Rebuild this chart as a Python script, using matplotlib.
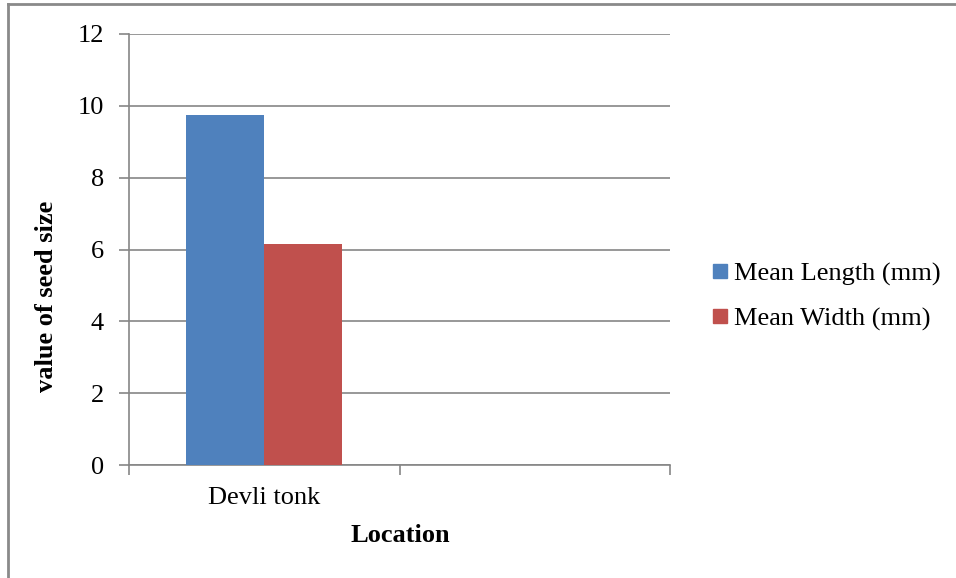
import matplotlib.pyplot as plt
from matplotlib.lines import Line2D
import numpy as np

# DATA
locations = ["Devli tonk", ""]
series_names = ["Mean Length (mm)", "Mean Width (mm)"]
mean_length = [9.75, np.nan]
mean_width = [6.15, np.nan]
y_ticks = [0, 2, 4, 6, 8, 10, 12]

# STYLE
blue = "#4F81BD"
red = "#C0504D"
grid_col = "#868686"
fs = 19
plt.rcParams["font.family"] = ["Liberation Serif", "DejaVu Serif"]

W, H = 956, 578
fig = plt.figure(figsize=(W / 100, H / 100), dpi=100)
ax = fig.add_axes([129 / W, 1 - 465 / H, (670 - 129) / W, (465 - 34) / H])

x = np.arange(len(locations))
bar_w = 78 / 271
ax.bar(x - bar_w / 2, mean_length, bar_w, color=blue, zorder=3)
ax.bar(x + bar_w / 2, mean_width, bar_w, color=red, zorder=3)

ax.set_xlim(-0.5, len(locations) - 0.5)
ax.set_ylim(0, 12)
ax.set_yticks(y_ticks)
ax.yaxis.grid(True, color=grid_col, linewidth=1.2)
ax.set_axisbelow(True)

# category boundary ticks, labels centred between them
ax.set_xticks(np.arange(len(locations) + 1) - 0.5)
ax.set_xticklabels([])
ax.set_xticks(x, minor=True)
ax.set_xticklabels(locations, minor=True)
ax.tick_params(axis="x", which="minor", length=0, pad=16, labelsize=fs)
ax.tick_params(axis="x", which="major", length=7, width=1.2, color=grid_col)
ax.tick_params(axis="y", length=7, width=1.2, color=grid_col, pad=11, labelsize=fs)

for side in ["top", "right"]:
    ax.spines[side].set_visible(False)
for side in ["left", "bottom"]:
    ax.spines[side].set_color(grid_col)
    ax.spines[side].set_linewidth(1.2)

fig.text(47 / W, 1 - 296 / H, "value of seed size", rotation=90, ha="center", va="center",
         fontsize=fs, fontweight="bold")
fig.text(400 / W, 1 - 536 / H, "Location", ha="center", va="center",
         fontsize=fs, fontweight="bold")

handles = [Line2D([], [], marker="s", linestyle="none", markersize=10, color=c) for c in (blue, red)]
fig.legend(handles, series_names, loc="center left", bbox_to_anchor=(709 / W, 1 - 296.5 / H),
           frameon=False, fontsize=fs, handlelength=0.8, handletextpad=0.15,
           labelspacing=0.8, borderaxespad=0, borderpad=0)

# outer frame (cropped at right and bottom)
fig.add_artist(Line2D([8 / W, 8 / W], [0, 1 - 4 / H], color="#8a8a8a", linewidth=2))
fig.add_artist(Line2D([8 / W, 1], [1 - 4 / H, 1 - 4 / H], color="#8a8a8a", linewidth=2))

fig.savefig("out.png", dpi=100)
